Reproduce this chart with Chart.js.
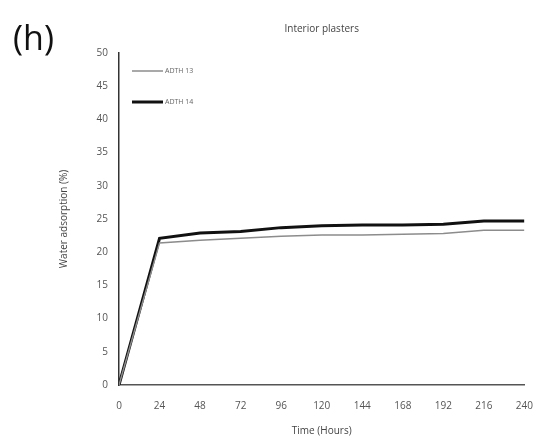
<!DOCTYPE html>
<html>
<head>
<meta charset="utf-8">
<script src="https://cdn.jsdelivr.net/npm/chart.js@4/dist/chart.umd.min.js"></script>
<style>
  html, body { margin: 0; padding: 0; background: #fff; }
  #wrap { width: 544px; height: 445px; }
</style>
</head>
<body>
<div id="wrap"><canvas id="chart" width="544" height="445"></canvas></div>
<script>
const hours = [0, 24, 48, 72, 96, 120, 144, 168, 192, 216, 240];
const adth13 = [0, 21.4, 21.8, 22.1, 22.4, 22.6, 22.6, 22.7, 22.8, 23.3, 23.3];
const adth14 = [0, 22.1, 22.9, 23.1, 23.7, 24.0, 24.1, 24.1, 24.2, 24.7, 24.7];
const seriesNames = ['ADTH 13', 'ADTH 14'];

const toPoints = (vals) => vals.map((v, i) => ({ x: hours[i], y: v }));

// legend drawn inside the plot area, top left
const innerLegend = {
    id: 'innerLegend',
    afterDraw(chart) {
        const ctx = chart.ctx;
        const left = chart.chartArea.left;
        const top = chart.chartArea.top;
        ctx.save();
        chart.data.datasets.forEach((ds, i) => {
            const y = top + 18 + i * 31;
            ctx.strokeStyle = ds.borderColor;
            ctx.lineWidth = ds.borderWidth;
            ctx.beginPath();
            ctx.moveTo(left + 13, y);
            ctx.lineTo(left + 44, y);
            ctx.stroke();
            ctx.fillStyle = '#666';
            ctx.font = '7px "Open Sans"';
            ctx.textBaseline = 'middle';
            ctx.fillText(ds.label, left + 46, y);
        });
        // panel letter
        ctx.fillStyle = '#111';
        ctx.font = '34px "Open Sans"';
        ctx.textBaseline = 'alphabetic';
        ctx.fillText('(h)', 13, 50);
        ctx.restore();
    }
};

new Chart(document.getElementById('chart'), {
    type: 'line',
    data: {
        datasets: [{
            label: seriesNames[0],
            data: toPoints(adth13),
            borderColor: '#8c8c8c',
            borderWidth: 1.5,
            pointRadius: 0,
            tension: 0
        }, {
            label: seriesNames[1],
            data: toPoints(adth14),
            borderColor: '#111111',
            borderWidth: 3,
            pointRadius: 0,
            tension: 0
        }]
    },
    options: {
        responsive: false,
        animation: false,
        layout: { padding: { left: 58, right: 19, top: 8, bottom: 4 } },
        plugins: {
            legend: { display: false },
            tooltip: { enabled: false },
            title: {
                display: true,
                text: 'Interior plasters',
                fullSize: false,
                color: '#444',
                font: { family: 'Open Sans', size: 10, weight: 'normal' },
                padding: { top: 15, bottom: 18 }
            }
        },
        scales: {
            x: {
                type: 'linear',
                min: 0,
                max: 240,
                ticks: {
                    stepSize: 24,
                    color: '#555',
                    font: { family: 'Open Sans', size: 10 },
                    padding: 11
                },
                grid: { display: false, drawOnChartArea: false, drawTicks: true, tickLength: 4, color: '#444' },
                border: { color: '#555', width: 1.5 },
                title: {
                    display: true,
                    text: 'Time (Hours)',
                    color: '#444',
                    font: { family: 'Open Sans', size: 10 },
                    padding: { top: 2 }
                }
            },
            y: {
                min: 0,
                max: 50,
                afterFit(scale) { scale.width = 61; },
                ticks: {
                    stepSize: 5,
                    color: '#555',
                    font: { family: 'Open Sans', size: 10 },
                    padding: 7
                },
                grid: { display: false, drawOnChartArea: false, drawTicks: true, tickLength: 4, color: '#444' },
                border: { color: '#333', width: 1.5 },
                title: {
                    display: true,
                    text: 'Water adsorption (%)',
                    color: '#444',
                    font: { family: 'Open Sans', size: 10 },
                    padding: { top: 0, bottom: 0 }
                }
            }
        }
    },
    plugins: [innerLegend]
});
</script>
</body>
</html>
